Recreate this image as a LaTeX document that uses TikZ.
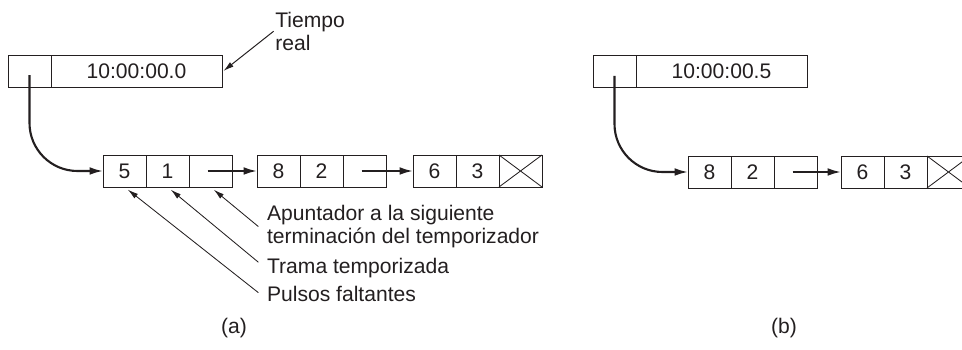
\documentclass[tikz,border=0pt]{standalone}
\usepackage{fontspec}
\setmainfont{Liberation Sans}
\usepackage{tikz}
\usetikzlibrary{calc,positioning,arrows.meta}
\definecolor{InkBlack}{HTML}{231F20}
\newcommand{\lbl}{\fontsize{15}{16}\selectfont}
\tikzset{
  cell/.style={draw=InkBlack,line width=0.6pt,minimum width=1.075cm,minimum height=0.8cm,
    inner sep=0pt,outer sep=0pt,font=\lbl,text=InkBlack},
  wide/.style={minimum width=4.275cm},
  txt/.style={font=\lbl,align=left,inner sep=0pt,text=InkBlack},
  ptr/.style={draw=InkBlack,line width=1.5pt,-{Latex[length=9.5pt,width=5.5pt]}},
  note/.style={draw=InkBlack,line width=0.6pt,shorten >=3pt,-{Latex[length=7.5pt,width=4pt]}}
}
\newcommand{\TimerRec}[4]{%
  \node[cell,anchor=west] (#1a) at #2 {#3};
  \node[cell,right=0pt of #1a] (#1b) {#4};
  \node[cell,right=0pt of #1b] (#1c) {};
}
\newcommand{\NilCross}[1]{%
  \draw[draw=InkBlack,line width=0.6pt] (#1.north west) -- (#1.south east)
    (#1.south west) -- (#1.north east);
}
\begin{document}
\begin{tikzpicture}
  \useasboundingbox (0,0) rectangle (24.05,8.75);

  % (a) reloj
  \node[cell,anchor=west] (hA1) at (0.2,6.975) {};
  \node[cell,wide,right=0pt of hA1] (hA2) {10:00:00.0};
  \node[txt,anchor=north west] (tiempo) at (6.875,8.45) {Tiempo\\real};
  \draw[note,line width=0.7pt,shorten >=0pt] ([xshift=-1pt]tiempo.west) -- ([xshift=1pt]hA2.east);

  % (a) lista de temporizadores
  \TimerRec{p}{(2.575,4.475)}{5}{1}
  \TimerRec{q}{(6.425,4.475)}{8}{2}
  \TimerRec{r}{(10.325,4.475)}{6}{3}
  \NilCross{rc}
  \draw[ptr,rounded corners=1.2cm] ([yshift=-3pt]hA1.center) |- (pa.west);
  \draw[ptr] ([xshift=-2pt]pc.center) -- (qa.west);
  \draw[ptr] ([xshift=-2pt]qc.center) -- (ra.west);

  % leyendas
  \node[txt,anchor=north west] (apunt) at (6.67,3.62) {Apuntador a la siguiente\\terminación del temporizador};
  \node[txt,anchor=base west] (trama) at (6.67,1.9) {Trama temporizada};
  \node[txt,anchor=base west] (pulsos) at (6.67,1.21) {Pulsos faltantes};
  \draw[note] ([xshift=-6pt]apunt.west) -- (pc.south);
  \draw[note] ([xshift=-6pt,yshift=4.5pt]trama.west) -- (pb.south);
  \draw[note] ([xshift=-6pt,yshift=1pt]pulsos.west) -- (pa.south);
  \node[txt] (capA) at (5.85,0.55) {(a)};

  % (b) medio segundo despues
  \node[cell,anchor=west] (hB1) at (14.825,6.96) {};
  \node[cell,wide,right=0pt of hB1] (hB2) {10:00:00.5};
  \TimerRec{s}{(17.2,4.45)}{8}{2}
  \TimerRec{t}{(21.025,4.45)}{6}{3}
  \NilCross{tc}
  \draw[ptr,rounded corners=1.2cm] ([yshift=-3pt]hB1.center) |- (sa.west);
  \draw[ptr] ([xshift=-2pt]sc.center) -- (ta.west);
  \node[txt] (capB) at (19.6,0.55) {(b)};
\end{tikzpicture}
\end{document}
